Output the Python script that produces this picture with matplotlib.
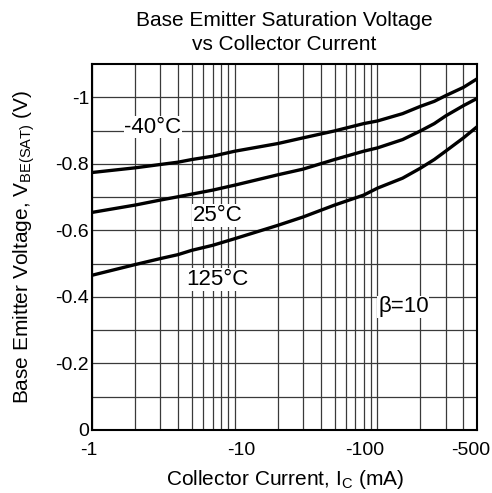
import numpy as np
import matplotlib
matplotlib.use("Agg")
import matplotlib.pyplot as plt
from matplotlib.ticker import FixedLocator, NullFormatter
from matplotlib.transforms import ScaledTranslation

plt.rcParams['font.family'] = ['Liberation Sans', 'DejaVu Sans']
plt.rcParams['mathtext.fontset'] = 'custom'
plt.rcParams['mathtext.rm'] = 'Liberation Sans'

# collector current (mA, magnitude) and |VBE(sat)| (V)
ic = [1, 2, 3, 4, 5, 7, 10, 20, 30, 50, 80, 100, 150, 200, 250, 300, 400, 500]
vbe_m40 = [0.774, 0.788, 0.798, 0.805, 0.813, 0.823, 0.838, 0.861, 0.878, 0.899,
           0.921, 0.929, 0.951, 0.973, 0.988, 1.005, 1.030, 1.056]
vbe_25 = [0.654, 0.676, 0.691, 0.701, 0.709, 0.721, 0.736, 0.767, 0.784, 0.813,
          0.838, 0.848, 0.873, 0.899, 0.921, 0.944, 0.975, 0.997]
vbe_125 = [0.465, 0.497, 0.515, 0.527, 0.540, 0.555, 0.575, 0.615, 0.640, 0.676,
           0.706, 0.727, 0.757, 0.787, 0.813, 0.838, 0.878, 0.912]

xticks = [1, 10, 100, 500]
xticklabels = ['-1', '-10', '-100', '-500']
yticks = [0, 0.2, 0.4, 0.6, 0.8, 1.0]
yticklabels = ['0', '-0.2', '-0.4', '-0.6', '-0.8', '-1']

fig = plt.figure(figsize=(4.92, 4.93), dpi=100)
ax = fig.add_axes([0.187, 0.128, 0.783, 0.742])

ax.set_xscale('log')
ax.set_xlim(1, 500)
ax.set_ylim(0, 1.1)

for y in [vbe_m40, vbe_25, vbe_125]:
    ax.plot(ic, y, color='black', lw=2.4, zorder=3)

ax.set_xticks(xticks)
ax.set_xticklabels(xticklabels)
ax.xaxis.set_minor_locator(FixedLocator([m * 10**d for d in range(0, 3) for m in range(2, 10)]))
ax.xaxis.set_minor_formatter(NullFormatter())
ax.set_yticks(yticks)
ax.set_yticklabels(yticklabels)
ax.yaxis.set_minor_locator(FixedLocator(np.arange(0.1, 1.1, 0.2)))

ax.grid(True, which='both', color='#3a3a3a', lw=0.9)
ax.tick_params(which='both', length=0, labelsize=14)
ax.tick_params(axis='x', pad=8.5)
ax.tick_params(axis='y', pad=2)
for s in ax.spines.values():
    s.set_linewidth(1.5)
    s.set_zorder(4)

# the x tick labels in the original sit a little off their ticks
for lbl, dx in zip(ax.get_xticklabels(), [-3, 7, -13, -7]):
    lbl.set_transform(lbl.get_transform() + ScaledTranslation(dx / 100, 0, fig.dpi_scale_trans))

box = dict(facecolor='white', edgecolor='none', pad=0.5)
ax.text(2.67, 0.91, '-40°C', ha='center', va='center', fontsize=16, bbox=box, zorder=2.5)
ax.text(7.6, 0.645, '25°C', ha='center', va='center', fontsize=16, bbox=box, zorder=2.5)
ax.text(7.6, 0.452, '125°C', ha='center', va='center', fontsize=16, bbox=box, zorder=2.5)
ax.text(152, 0.37, 'β=10', ha='center', va='center', fontsize=16, bbox=box, zorder=2.5)

ax.set_title('Base Emitter Saturation Voltage\nvs Collector Current', fontsize=15, pad=10.5, linespacing=1.3)
ax.set_xlabel(r'Collector Current, I$_{\mathregular{C}}$ (mA)', fontsize=15, labelpad=6.5)
ax.set_ylabel(r'Base Emitter Voltage, V$_{\mathregular{BE(SAT)}}$ (V)', fontsize=15, labelpad=13)

fig.savefig('out.png', dpi=100)
